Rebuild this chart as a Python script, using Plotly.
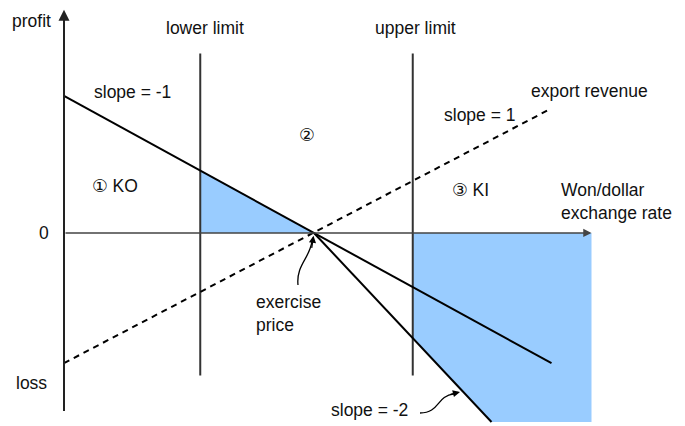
import plotly.graph_objects as go

# eje x: tipo de cambio (unidades arbitrarias), eje y: ganancia / pérdida
x_axis_end = 21.1
y_axis_bottom, y_axis_top = -13.1, 16.3
lower_limit = 5.45
upper_limit = 13.95
limit_top, limit_bottom = 13.1, -10.4

# líneas de ganancia
slope1_x = [0, 10, 19.5]
slope1_y = [10, 0, -9.5]
slope2_x = [10, 17.1]
slope2_y = [0, -13.8]
export_x = [0, 19.4]
export_y = [-9.5, 9.0]

# zonas sombreadas
ko_x = [5.45, 5.45, 10]
ko_y = [4.55, 0, 0]
ki_x = [13.95, 21.1, 21.1, 17.1, 13.95]
ki_y = [0, 0, -13.8, -13.8, -7.68]

FONT = "Arial, Liberation Sans, DejaVu Sans, sans-serif"
BLUE = "#99CCFF"

fig = go.Figure()

# zonas azules
fig.add_trace(go.Scatter(x=ko_x, y=ko_y, fill='toself', fillcolor=BLUE,
                         line=dict(width=0), mode='lines', hoverinfo='skip'))
fig.add_trace(go.Scatter(x=ki_x, y=ki_y, fill='toself', fillcolor=BLUE,
                         line=dict(width=0), mode='lines', hoverinfo='skip'))

# límites inferior y superior
for xl in [lower_limit, upper_limit]:
    fig.add_trace(go.Scatter(x=[xl, xl], y=[limit_bottom, limit_top], mode='lines',
                             line=dict(color='#333333', width=2), hoverinfo='skip'))

# pendiente -1, -2 y ingreso por exportaciones
fig.add_trace(go.Scatter(x=slope1_x, y=slope1_y, mode='lines',
                         line=dict(color='black', width=2)))
fig.add_trace(go.Scatter(x=slope2_x, y=slope2_y, mode='lines',
                         line=dict(color='black', width=2)))
fig.add_trace(go.Scatter(x=export_x, y=export_y, mode='lines',
                         line=dict(color='black', width=2, dash='6px,5px')))

# ejes con flecha
arrows = [
    dict(x=x_axis_end, y=0, ax=0, ay=0, arrowcolor='#444444', arrowwidth=1.5),
    dict(x=0, y=y_axis_top, ax=0, ay=y_axis_bottom, arrowcolor='#222222', arrowwidth=2),
    dict(x=9.98, y=-0.2, ax=9.9, ay=-1.2, arrowcolor='black', arrowwidth=1.3),
    dict(x=15.84, y=-11.6, ax=15.4, ay=-11.8, arrowcolor='black', arrowwidth=1.3),
]
for a in arrows:
    fig.add_annotation(xref='x', yref='y', axref='x', ayref='y', text='',
                       showarrow=True, arrowhead=2, arrowsize=1.1, **a)

# flechas curvas
fig.add_shape(type='path', xref='x', yref='y',
              path='M 9.36,-3.8 C 9.28,-2.34 9.84,-1.82 9.92,-0.6',
              line=dict(color='black', width=1.3))
fig.add_shape(type='path', xref='x', yref='y',
              path='M 14.24,-13.14 C 15.04,-13.14 14.88,-11.9 15.6,-11.75',
              line=dict(color='black', width=1.3))

# textos
labels = [
    ("profit", -1.32, 15.45, 'center'),
    ("lower limit", 5.64, 14.96, 'center'),
    ("upper limit", 14.04, 14.96, 'center'),
    ("slope = -1", 2.72, 10.3, 'center'),
    ("②", 9.72, 7.15, 'center'),
    ("① KO", 2.04, 3.4, 'center'),
    ("slope = 1", 16.64, 8.6, 'center'),
    ("export revenue", 18.6, 10.35, 'left'),
    ("③ KI", 16.24, 3.1, 'center'),
    ("Won/dollar<br>exchange rate", 19.8, 2.3, 'left'),
    ("0", -0.8, 0, 'center'),
    ("loss", -1.32, -10.95, 'center'),
    ("exercise<br>price", 7.6, -5.9, 'left'),
    ("slope = -2", 12.2, -12.95, 'center'),
]
for txt, xx, yy, al in labels:
    xanchor = 'left' if al == 'left' else 'center'
    fig.add_annotation(x=xx, y=yy, text=txt, showarrow=False, xanchor=xanchor,
                       align=al, font=dict(family=FONT, size=17.5, color='#111111'))

# la página añade ~8px de margen, se compensa en tamaño y rangos
fig.update_layout(
    width=677, height=418,
    margin=dict(l=0, r=0, t=0, b=0),
    paper_bgcolor='white', plot_bgcolor='white',
    showlegend=False,
    xaxis=dict(range=[-2.24, 24.84], visible=False, fixedrange=True),
    yaxis=dict(range=[-14.09, 16.42], visible=False, fixedrange=True),
)

fig.write_html("out.html")
